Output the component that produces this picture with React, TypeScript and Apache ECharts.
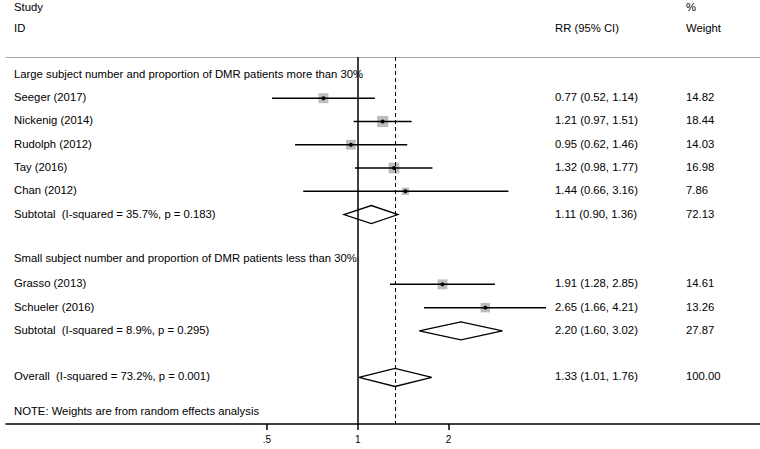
import React, { useEffect, useRef } from "react";
import * as echarts from "echarts";

// ---- data ----
const group1Title = "Large subject number and proportion of DMR patients more than 30%";
const group2Title = "Small subject number and proportion of DMR patients less than 30%";

const studyNames = ["Seeger (2017)", "Nickenig (2014)", "Rudolph (2012)", "Tay (2016)", "Chan (2012)", "Grasso (2013)", "Schueler (2016)"];
const studyRR = [0.77, 1.21, 0.95, 1.32, 1.44, 1.91, 2.65];
const studyLo = [0.52, 0.97, 0.62, 0.98, 0.66, 1.28, 1.66];
const studyHi = [1.14, 1.51, 1.46, 1.77, 3.16, 2.85, 4.21];
const studyWeight = [14.82, 18.44, 14.03, 16.98, 7.86, 14.61, 13.26];
const studyRow = [1, 2, 3, 4, 5, 9, 10];

const pooledNames = ["Subtotal  (I-squared = 35.7%, p = 0.183)", "Subtotal  (I-squared = 8.9%, p = 0.295)", "Overall  (I-squared = 73.2%, p = 0.001)"];
const pooledRR = [1.11, 2.2, 1.33];
const pooledLo = [0.9, 1.6, 1.01];
const pooledHi = [1.36, 3.02, 1.76];
const pooledWeight = [72.13, 27.87, 100.0];
const pooledRow = [6, 11, 13];

const headerRow1 = ["Study", "", "%"];
const headerRow2 = ["ID", "RR (95% CI)", "Weight"];
const noteText = "NOTE: Weights are from random effects analysis";

const tickValues = [0.5, 1, 2];
const tickLabels = [".5", "1", "2"];
const overallRR = 1.33;

// ---- helpers ----
const l2 = (v: number) => Math.log2(v);
const fmtCI = (r: number, lo: number, hi: number) => `${r.toFixed(2)} (${lo.toFixed(2)}, ${hi.toFixed(2)})`;

type Row = { row: number; cols: string[] };

const textRows: Row[] = [
  { row: -2.93, cols: headerRow1 },
  { row: -2, cols: headerRow2 },
  { row: 0, cols: [group1Title, "", ""] },
  ...studyNames.map((n, i) => ({ row: studyRow[i], cols: [n, fmtCI(studyRR[i], studyLo[i], studyHi[i]), studyWeight[i].toFixed(2)] })),
  ...pooledNames.map((n, i) => ({ row: pooledRow[i], cols: [n, fmtCI(pooledRR[i], pooledLo[i], pooledHi[i]), pooledWeight[i].toFixed(2)] })),
  { row: 7.9, cols: [group2Title, "", ""] },
  { row: 14.5, cols: [noteText, "", ""] },
];

const FONT = "11.3px 'Liberation Sans', Arial, sans-serif";
const COL_X = [14, 555, 686];
const X_MIN = -3.873;
const X_MAX = 4.431;

export default function App() {
  const ref = useRef<HTMLDivElement>(null);
  useEffect(() => {
    if (!ref.current) return;
    const chart = echarts.init(ref.current, undefined, { renderer: "svg" });
    const option: any = {
      animation: false,
      grid: { left: 6, right: 0, top: 57, bottom: 25 },
      xAxis: [
        {
          type: "value",
          min: X_MIN,
          max: X_MAX,
          position: "bottom",
          splitLine: { show: false },
          axisLine: { show: true, onZero: false, lineStyle: { color: "#000", width: 1.5 } },
          axisTick: { show: true, length: 6, lineStyle: { color: "#000", width: 1.5 }, customValues: tickValues.map(l2) },
          axisLabel: {
            show: true,
            customValues: tickValues.map(l2),
            formatter: (v: number) => {
              const idx = tickValues.findIndex((t) => Math.abs(l2(t) - v) < 1e-6);
              return idx >= 0 ? tickLabels[idx] : "";
            },
            color: "#000",
            fontSize: 10,
            fontFamily: "'Liberation Sans', Arial, sans-serif",
            margin: 10,
          },
        },
        {
          type: "value",
          min: X_MIN,
          max: X_MAX,
          position: "top",
          splitLine: { show: false },
          axisLine: { show: true, onZero: false, lineStyle: { color: "#a8a8a8", width: 1 } },
          axisTick: { show: false },
          axisLabel: { show: false },
        },
      ],
      yAxis: { type: "value", inverse: true, min: -0.77, max: 15, show: false },
      series: [
        {
          type: "custom",
          name: "studies",
          clip: false,
          data: studyNames.map((_, i) => [l2(studyRR[i]), l2(studyLo[i]), l2(studyHi[i]), studyRow[i], studyWeight[i]]),
          encode: { x: 0, y: 3 },
          renderItem: (params: any, api: any) => {
            const row = api.value(3);
            const [xe, y] = api.coord([api.value(0), row]);
            const xl = api.coord([api.value(1), row])[0];
            const xh = api.coord([api.value(2), row])[0];
            const side = 2.6 * Math.sqrt(api.value(4));
            return {
              type: "group",
              children: [
                { type: "rect", shape: { x: xe - side / 2, y: y - side / 2, width: side, height: side }, style: { fill: "#bdbdbd" } },
                { type: "line", shape: { x1: xl, y1: y, x2: xh, y2: y }, style: { stroke: "#000", lineWidth: 1.5 } },
                { type: "circle", shape: { cx: xe, cy: y, r: 2 }, style: { fill: "#000" } },
              ],
            };
          },
        },
        {
          type: "custom",
          name: "pooled",
          clip: false,
          data: pooledNames.map((_, i) => [l2(pooledRR[i]), l2(pooledLo[i]), l2(pooledHi[i]), pooledRow[i]]),
          encode: { x: 0, y: 3 },
          renderItem: (params: any, api: any) => {
            const row = api.value(3);
            const [xe, y] = api.coord([api.value(0), row]);
            const xl = api.coord([api.value(1), row])[0];
            const xh = api.coord([api.value(2), row])[0];
            const h = 9;
            return {
              type: "polygon",
              shape: { points: [[xl, y], [xe, y - h], [xh, y], [xe, y + h]] },
              style: { fill: "none", stroke: "#000", lineWidth: 1.3 },
            };
          },
          markLine: {
            silent: true,
            symbol: ["none", "none"],
            label: { show: false },
            data: [
              { xAxis: 0, lineStyle: { color: "#000", width: 1.5, type: "solid" } },
              { xAxis: l2(overallRR), lineStyle: { color: "#000", width: 1, type: [4, 3] } },
            ],
          },
        },
        {
          type: "custom",
          name: "texts",
          clip: false,
          data: textRows.map((r) => [0, r.row]),
          encode: { x: 0, y: 1 },
          renderItem: (params: any, api: any) => {
            const r = textRows[params.dataIndex];
            const y = api.coord([0, r.row])[1] - (r.row >= 0 ? 1 : 0);
            return {
              type: "group",
              children: r.cols
                .map((t, j) => ({ t, j }))
                .filter((c) => c.t !== "")
                .map((c) => ({
                  type: "text",
                  style: {
                    text: c.t,
                    x: COL_X[c.j],
                    y,
                    font: FONT,
                    fill: "#000",
                    align: "left",
                    verticalAlign: "middle",
                    textAlign: "left",
                    textVerticalAlign: "middle",
                  },
                })),
            };
          },
        },
      ],
    };
    chart.setOption(option);
    return () => chart.dispose();
  }, []);
  return <div ref={ref} style={{ position: "fixed", left: 0, top: 0, width: 760, height: 449, background: "#fff" }} />;
}
